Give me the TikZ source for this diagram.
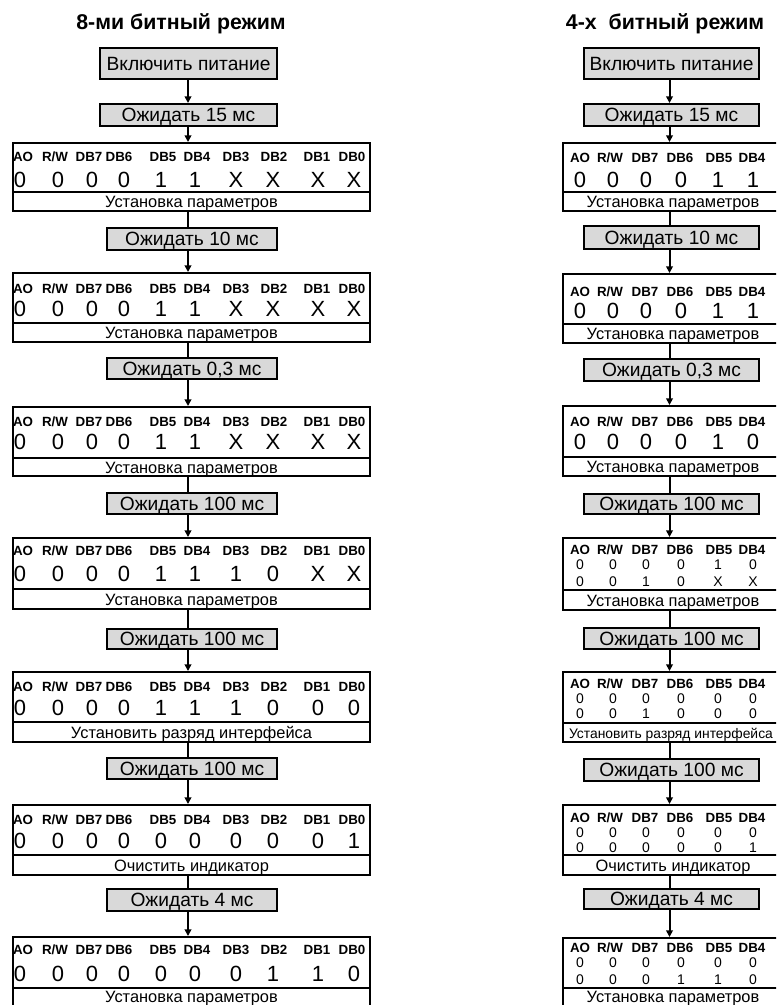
\documentclass[tikz,border=0pt]{standalone}
\usepackage{fontspec}
\setmainfont{Liberation Sans}
\usetikzlibrary{arrows.meta}
\definecolor{boxgray}{HTML}{D9D9D9}
\tikzset{
  bw/.style={line width=1.5pt},
  gbox/.style={draw, bw, fill=boxgray, inner sep=0pt, text height=10.4pt, text depth=0pt,
    font=\fontsize{14.4}{16}\selectfont},
  tbl/.style={draw, bw, inner sep=0pt},
  lbl/.style={inner sep=0pt, text height=7.2pt, text depth=0pt, font=\bfseries\fontsize{10}{11}\selectfont},
  dig/.style={inner sep=0pt, text height=11.9pt, text depth=0pt, font=\fontsize{16.5}{17}\selectfont},
  sdig/.style={inner sep=0pt, text height=7.6pt, text depth=0pt, font=\fontsize{10.5}{11}\selectfont},
  captxt/.style={inner sep=0pt, text height=8.9pt, text depth=0pt, font=\fontsize{12.3}{13}\selectfont},
  scaptxt/.style={inner sep=0pt, text height=7.5pt, text depth=0pt, font=\fontsize{10.4}{11}\selectfont},
  ttl/.style={inner sep=0pt, anchor=base, font=\bfseries\fontsize{16}{18}\selectfont},
  arr/.style={bw, -{Triangle[length=5pt,width=5pt]}},
  lnk/.style={bw},
}
% gray box: name, x1, x2, y1, y2, text
\newcommand\gb[6]{%
  \node[gbox, minimum width={(#3-#2-2)*0.75pt}, minimum height={(#5-#4-2)*0.75pt}]
    (#1) at ({(#2+#3)/2},{(#4+#5)/2}) {#6};}
% left table: name, top, divider, bottom, label y, digit y, digits
\newcommand\LT[7]{%
  \node[tbl, minimum width={357*0.75pt}, minimum height={(#4-#2-2)*0.75pt}]
    (#1) at (191.5,{(#2+#4)/2}) {};
  \draw[bw] (12,#3) -- (371,#3);
  \foreach \l [count=\i from 0] in {AO,R/W,DB7,DB6,DB5,DB4,DB3,DB2,DB1,DB0} {
    \pgfmathsetmacro\xx{{23,55,89,119,163,197,236,274,317,352}[\i]}
    \node[lbl] at (\xx,#5) {\l};}
  \foreach \d [count=\i from 0] in {#7} {
    \pgfmathsetmacro\xx{{20,58,92,124,161,195,236,273,318,354}[\i]}
    \node[dig] at (\xx,#6) {\d};}
}
% right single-row table: name, top, divider, bottom, label y, digit y, digits
\newcommand\RT[7]{%
  \node[tbl, minimum width={222*0.75pt}, minimum height={(#4-#2-2)*0.75pt}]
    (#1) at (674,{(#2+#4)/2}) {};
  \draw[bw] (562,#3) -- (786,#3);
  \foreach \l [count=\i from 0] in {AO,R/W,DB7,DB6,DB5,DB4} {
    \pgfmathsetmacro\xx{{580,610,645,680,719,752}[\i]}
    \node[lbl] at (\xx,#5) {\l};}
  \foreach \d [count=\i from 0] in {#7} {
    \pgfmathsetmacro\xx{{580,613,646,681,718,753}[\i]}
    \node[dig] at (\xx,#6) {\d};}
}
% right double-row table: name, top, divider, bottom, label y, row1 y, row2 y, digits1, digits2
\newcommand\RD[9]{%
  \node[tbl, minimum width={222*0.75pt}, minimum height={(#4-#2-2)*0.75pt}]
    (#1) at (674,{(#2+#4)/2}) {};
  \draw[bw] (562,#3) -- (786,#3);
  \foreach \l [count=\i from 0] in {AO,R/W,DB7,DB6,DB5,DB4} {
    \pgfmathsetmacro\xx{{580,610,645,680,719,752}[\i]}
    \node[lbl] at (\xx,#5) {\l};}
  \foreach \d [count=\i from 0] in {#8} {
    \pgfmathsetmacro\xx{{580,613,646,681,718,753}[\i]}
    \node[sdig] at (\xx,#6) {\d};}
  \foreach \d [count=\i from 0] in {#9} {
    \pgfmathsetmacro\xx{{580,613,646,681,718,753}[\i]}
    \node[sdig] at (\xx,#7) {\d};}
}
\begin{document}
\begin{tikzpicture}[x=0.75pt,y=-0.75pt]
\useasboundingbox (0,0) rectangle (776,1005);
\clip (0,0) rectangle (776,1005);
\fill[white] (0,0) rectangle (776,1005);

\coordinate (lx) at (188,0);
\coordinate (rx) at (669.5,0);

% titles
\node[ttl] (lt) at (181,30) {8-ми битный режим};
\node[ttl] (rt) at (665,30) {4-х\ \ битный режим};

% ---------- left column ----------
\gb{b1}{99}{278}{47}{80}{Включить питание}
\gb{b2}{99}{278}{103}{127}{Ожидать 15 мс}
\gb{b3}{106}{278}{227}{251}{Ожидать 10 мс}
\gb{b4}{106}{278}{357}{380}{Ожидать 0,3 мс}
\gb{b5}{106}{278}{492}{515}{Ожидать 100 мс}
\gb{b6}{106}{278}{628}{650}{Ожидать 100 мс}
\gb{b7}{106}{278}{757}{780}{Ожидать 100 мс}
\gb{b8}{106}{278}{888}{912}{Ожидать 4 мс}

\LT{t1}{142}{192}{212}{157}{180}{0,0,0,0,1,1,X,X,X,X}
\LT{t2}{272}{323}{343}{289}{309}{0,0,0,0,1,1,X,X,X,X}
\LT{t3}{406}{458}{477}{422}{442}{0,0,0,0,1,1,X,X,X,X}
\LT{t4}{537}{589}{610}{551}{574}{0,0,0,0,1,1,1,0,X,X}
\LT{t5}{671}{722}{743}{687}{708}{0,0,0,0,1,1,1,0,0,0}
\LT{t6}{804}{855}{876}{820}{841}{0,0,0,0,0,0,0,0,0,1}
\LT{t7}{936}{988}{1010}{950}{974}{0,0,0,0,0,0,0,1,1,0}

\node[captxt] (t1c) at (191.5,202) {Установка параметров};
\node[captxt] (t2c) at (191.5,333) {Установка параметров};
\node[captxt] (t3c) at (191.5,467.5) {Установка параметров};
\node[captxt] (t4c) at (191.5,599.5) {Установка параметров};
\node[captxt] (t5c) at (191.5,732.5) {Установить разряд интерфейса};
\node[captxt] (t6c) at (191.5,865.5) {Очистить индикатор};
\node[captxt] (t7c) at (191.5,997) {Установка параметров};

\draw[arr] (b1.south -| lx) -- (b2.north -| lx);
\draw[arr] (b2.south -| lx) -- (t1.north -| lx);
\draw[lnk] (t1.south -| lx) -- (b3.north -| lx);
\draw[arr] (b3.south -| lx) -- (t2.north -| lx);
\draw[lnk] (t2.south -| lx) -- (b4.north -| lx);
\draw[arr] (b4.south -| lx) -- (t3.north -| lx);
\draw[lnk] (t3.south -| lx) -- (b5.north -| lx);
\draw[arr] (b5.south -| lx) -- (t4.north -| lx);
\draw[lnk] (t4.south -| lx) -- (b6.north -| lx);
\draw[arr] (b6.south -| lx) -- (t5.north -| lx);
\draw[lnk] (t5.south -| lx) -- (b7.north -| lx);
\draw[arr] (b7.south -| lx) -- (t6.north -| lx);
\draw[lnk] (t6.south -| lx) -- (b8.north -| lx);
\draw[arr] (b8.south -| lx) -- (t7.north -| lx);

% ---------- right column ----------
\gb{c1}{583}{760}{47}{80}{Включить питание}
\gb{c2}{583}{760}{103}{127}{Ожидать 15 мс}
\gb{c3}{583}{760}{225}{250}{Ожидать 10 мс}
\gb{c4}{583}{760}{358}{382}{Ожидать 0,3 мс}
\gb{c5}{583}{760}{493}{515}{Ожидать 100 мс}
\gb{c6}{583}{760}{627}{650}{Ожидать 100 мс}
\gb{c7}{583}{760}{758}{782}{Ожидать 100 мс}
\gb{c8}{583}{760}{888}{910}{Ожидать 4 мс}

\RT{r1}{142}{192}{212}{158}{180}{0,0,0,0,1,1}
\RT{r2}{273}{324}{344}{292}{311}{0,0,0,0,1,1}
\RT{r3}{405}{457}{477}{422}{442}{0,0,0,0,1,0}
\RD{r4}{537}{590}{611}{550}{564}{581}{0,0,0,0,1,0}{0,0,1,0,X,X}
\RD{r5}{671}{723}{743}{684}{698}{713}{0,0,0,0,0,0}{0,0,1,0,0,0}
\RD{r6}{804}{855}{876}{818}{832}{847}{0,0,0,0,0,0}{0,0,0,0,0,1}
\RD{r7}{937}{988}{1010}{948}{962}{979}{0,0,0,0,0,0}{0,0,0,1,1,0}

\node[captxt] (r1c) at (673,202) {Установка параметров};
\node[captxt] (r2c) at (673,334) {Установка параметров};
\node[captxt] (r3c) at (673,467) {Установка параметров};
\node[captxt] (r4c) at (673,600.5) {Установка параметров};
\node[scaptxt] (r5c) at (671,733) {Установить разряд интерфейса};
\node[captxt] (r6c) at (673,865.5) {Очистить индикатор};
\node[captxt] (r7c) at (673,997) {Установка параметров};

\draw[arr] (c1.south -| rx) -- (c2.north -| rx);
\draw[arr] (c2.south -| rx) -- (r1.north -| rx);
\draw[lnk] (r1.south -| rx) -- (c3.north -| rx);
\draw[arr] (c3.south -| rx) -- (r2.north -| rx);
\draw[lnk] (r2.south -| rx) -- (c4.north -| rx);
\draw[arr] (c4.south -| rx) -- (r3.north -| rx);
\draw[lnk] (r3.south -| rx) -- (c5.north -| rx);
\draw[arr] (c5.south -| rx) -- (r4.north -| rx);
\draw[lnk] (r4.south -| rx) -- (c6.north -| rx);
\draw[arr] (c6.south -| rx) -- (r5.north -| rx);
\draw[lnk] (r5.south -| rx) -- (c7.north -| rx);
\draw[arr] (c7.south -| rx) -- (r6.north -| rx);
\draw[lnk] (r6.south -| rx) -- (c8.north -| rx);
\draw[arr] (c8.south -| rx) -- (r7.north -| rx);
\end{tikzpicture}
\end{document}
